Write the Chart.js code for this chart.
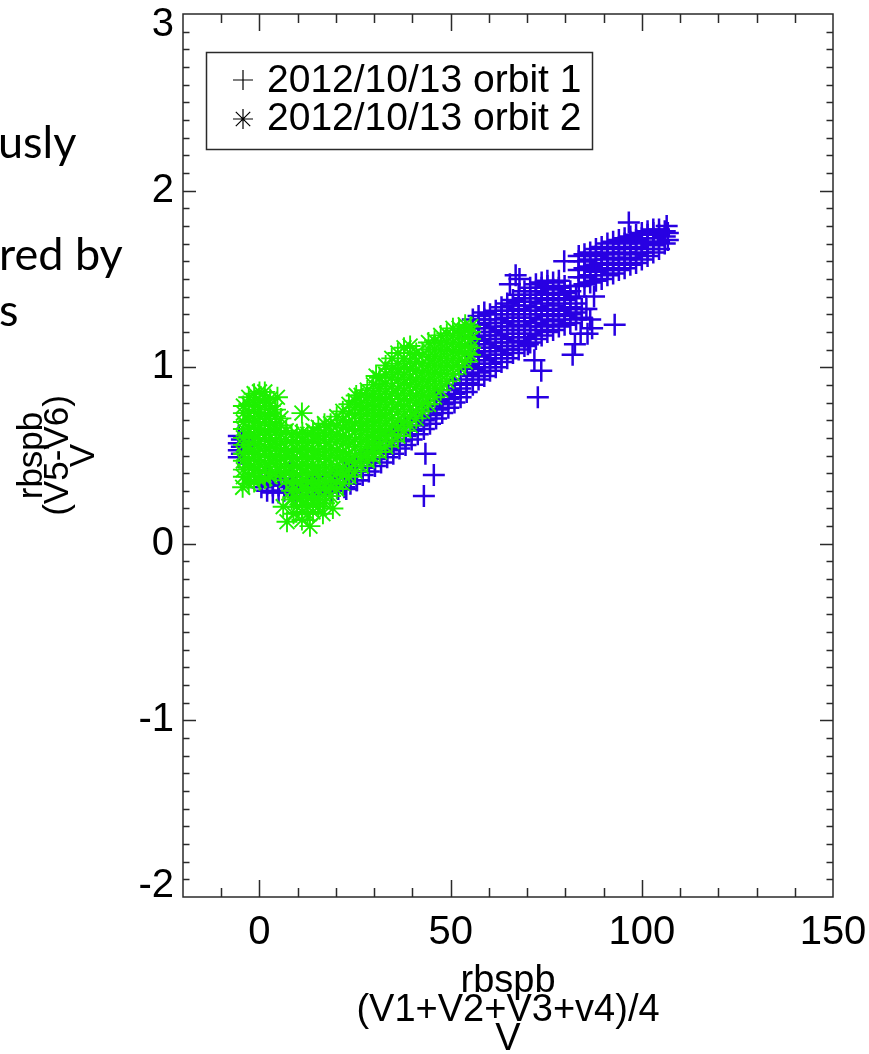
<!DOCTYPE html>
<html>
<head>
<meta charset="utf-8">
<script src="https://cdn.jsdelivr.net/npm/chart.js@4.4.1/dist/chart.umd.min.js"></script>
<style>
html,body{margin:0;padding:0;background:#fff;}
#wrap{position:relative;width:869px;height:1054px;overflow:hidden;background:#fff;}
#c{position:absolute;left:0;top:0;}
.slide{position:absolute;font-family:Lato,'Noto Sans',sans-serif;font-size:45px;line-height:45px;color:#000;white-space:nowrap;}
</style>
</head>
<body>
<div id="wrap">
<canvas id="c" width="869" height="1054"></canvas>
<div class="slide" style="left:-2px;top:119px">usly</div>
<div class="slide" style="left:-1px;top:231px">red by</div>
<div class="slide" style="left:-1px;top:287px">s</div>
</div>
<script>
// ---- tick labels / axis ranges ----
const xTickValues = [0, 50, 100, 150];
const yTickValues = [-2, -1, 0, 1, 2, 3];
const xRange = [-20, 150];
const yRange = [-2, 3];
const xMinorStep = 10;
const yMinorStep = 0.1;
const xTitle = ['rbspb', '(V1+V2+V3+v4)/4', 'V'];
const yTitle = ['rbspb', '(V5-V6)', 'V'];
const seriesNames = ['2012/10/13 orbit 1', '2012/10/13 orbit 2'];

// ---- orbit 1 (blue +): columns [x, [y...]] ----
const orbit1Columns = [
  [-5.4,[0.49,0.53,0.57,0.61]], [-4.6,[0.51,0.55,0.59]],
  [0.5,[0.32,0.36]], [2.0,[0.30,0.34,0.38]], [3.5,[0.29,0.33]], [5.0,[0.29,0.33,0.37]],
  [6.5,[0.30,0.34]], [8.0,[0.32,0.36,0.40]], [9.5,[0.30,0.34]],
  [11.0,[0.27,0.31,0.35]], [12.6,[0.27,0.31,0.36]], [14.2,[0.28,0.32,0.37]],
  [15.8,[0.28,0.33,0.38]], [17.4,[0.29,0.33,0.38]], [19.0,[0.30,0.34,0.39]],
  [20.6,[0.31,0.35,0.40]], [22.2,[0.32,0.37,0.42]], [23.8,[0.34,0.39,0.44]],
  [25.4,[0.36,0.41,0.46]], [27.0,[0.39,0.43,0.48]], [28.6,[0.41,0.46,0.51]],
  [30.2,[0.44,0.48,0.53]], [31.8,[0.46,0.51,0.56]], [33.4,[0.49,0.53,0.58]],
  [35.0,[0.51,0.56,0.61]], [36.6,[0.54,0.58,0.63]], [38.2,[0.56,0.61,0.66]],
  [39.8,[0.59,0.64,0.69]], [41.4,[0.62,0.67,0.72]], [43.0,[0.65,0.70,0.75]],
  [44.6,[0.68,0.73,0.78]], [46.2,[0.71,0.76,0.81]], [47.8,[0.74,0.79,0.84]],
  [49.4,[0.77,0.82,0.87]], [51.0,[0.80,0.85,0.90]], [52.6,[0.83,0.88,0.93]],
  [54.2,[0.86,0.91,0.96,1.01]],
  [55.8,[0.90,0.95,0.99,1.04,1.08,1.13,1.17,1.22,1.27]],
  [57.3,[0.93,0.97,1.02,1.06,1.11,1.15,1.20,1.24,1.29]],
  [58.8,[0.95,1.00,1.04,1.09,1.13,1.18,1.22,1.27,1.31]],
  [60.3,[0.98,1.02,1.07,1.11,1.16,1.20,1.25,1.30]],
  [61.8,[1.00,1.05,1.09,1.14,1.18,1.23,1.27,1.32]],
  [63.3,[1.03,1.07,1.12,1.16,1.21,1.25,1.30,1.34]],
  [64.8,[1.05,1.10,1.14,1.19,1.23,1.28,1.32,1.36]],
  [66.3,[1.08,1.12,1.17,1.21,1.26,1.30,1.35,1.38]],
  [67.8,[1.10,1.15,1.19,1.24,1.28,1.33,1.37,1.41]],
  [69.3,[1.12,1.17,1.21,1.26,1.30,1.35,1.39,1.43]],
  [70.8,[1.14,1.19,1.23,1.28,1.32,1.37,1.41,1.45]],
  [72.3,[1.16,1.21,1.25,1.30,1.34,1.39,1.43,1.47]],
  [73.8,[1.18,1.23,1.27,1.32,1.36,1.41,1.45,1.48]],
  [75.3,[1.20,1.24,1.29,1.33,1.38,1.42,1.46,1.49]],
  [76.8,[1.21,1.26,1.30,1.35,1.39,1.44,1.48]],
  [78.3,[1.23,1.27,1.32,1.36,1.41,1.45,1.49]],
  [79.8,[1.24,1.29,1.33,1.38,1.42,1.46]],
  [81.3,[1.25,1.30,1.34,1.39,1.43]],
  [82.8,[1.27,1.31,1.36,1.40]], [84.3,[1.28,1.33]],
  [83.5,[1.46,1.51,1.55,1.60,1.63]], [85.0,[1.47,1.51,1.56,1.60,1.64]],
  [86.5,[1.48,1.52,1.57,1.61,1.65]], [88.0,[1.49,1.54,1.58,1.63,1.67]],
  [89.5,[1.50,1.55,1.59,1.64,1.68]], [91.0,[1.52,1.56,1.61,1.65,1.70]],
  [92.5,[1.53,1.58,1.62,1.67,1.71]], [94.0,[1.55,1.59,1.64,1.68,1.72]],
  [95.5,[1.56,1.61,1.65,1.70,1.73]], [97.0,[1.58,1.62,1.67,1.71,1.74]],
  [98.5,[1.59,1.64,1.68,1.72,1.75]], [100.0,[1.61,1.65,1.70,1.73,1.76]],
  [101.5,[1.63,1.67,1.71,1.75,1.77]], [103.0,[1.65,1.69,1.73,1.76,1.78]],
  [104.5,[1.67,1.71,1.75,1.78]], [106.0,[1.70,1.74,1.77]], [106.8,[1.72,1.76]]
];
const orbit1Outliers = [
  [96.6,1.82],[79.7,1.60],[68.0,1.50],[87.5,1.40],[92.9,1.24],[72.8,0.83],
  [73.7,0.98],[71.9,1.04],[70.2,1.13],[81.9,1.07],[84.0,1.19],[82.5,1.13],
  [85.5,1.33],[86.5,1.27],[87.0,1.22],[85.8,1.19],[65.5,1.47],[67.0,1.52],
  [43.0,0.27],[45.6,0.39],[43.4,0.51],[22.7,0.31],[25.5,0.36],[106.5,1.80]
];

// ---- orbit 2 (green *): columns [x, [y...]] ----
const orbit2Columns = [
  [-4.2,[0.38,0.42,0.47,0.51,0.56,0.60,0.65,0.69,0.74,0.78]],
  [-2.8,[0.34,0.38,0.43,0.47,0.52,0.56,0.61,0.65,0.70,0.74,0.79,0.83]],
  [-1.4,[0.35,0.40,0.44,0.49,0.53,0.58,0.62,0.67,0.71,0.76,0.80,0.85]],
  [0.0,[0.36,0.40,0.45,0.49,0.54,0.58,0.63,0.67,0.72,0.76,0.81,0.86]],
  [1.4,[0.37,0.42,0.46,0.51,0.55,0.60,0.64,0.69,0.73,0.78,0.82,0.86]],
  [2.8,[0.38,0.42,0.47,0.51,0.56,0.60,0.65,0.69,0.74,0.78,0.82]],
  [4.2,[0.40,0.45,0.49,0.54,0.58,0.63,0.67,0.72,0.76]],
  [5.6,[0.40,0.44,0.49,0.53,0.58,0.62,0.67,0.71]],
  [7.0,[0.36,0.41,0.45,0.50,0.54,0.59,0.64]],
  [8.4,[0.25,0.30,0.34,0.39,0.43,0.48,0.52,0.57,0.62]],
  [9.8,[0.21,0.26,0.30,0.35,0.39,0.44,0.48,0.53,0.57,0.62]],
  [11.2,[0.18,0.22,0.27,0.31,0.36,0.40,0.45,0.49,0.54,0.58,0.63]],
  [12.6,[0.17,0.21,0.26,0.30,0.35,0.39,0.44,0.48,0.53,0.57,0.62]],
  [14.0,[0.18,0.23,0.27,0.32,0.36,0.41,0.45,0.50,0.54,0.59,0.64]],
  [15.4,[0.21,0.25,0.30,0.34,0.39,0.43,0.48,0.52,0.57,0.61,0.66]],
  [17.0,[0.23,0.27,0.32,0.36,0.41,0.45,0.50,0.54,0.59,0.63,0.68]],
  [18.6,[0.27,0.32,0.36,0.41,0.45,0.50,0.54,0.59,0.63,0.68]],
  [20.2,[0.31,0.35,0.40,0.44,0.49,0.53,0.58,0.62,0.67,0.72]],
  [21.8,[0.34,0.39,0.43,0.48,0.52,0.57,0.61,0.66,0.70,0.75]],
  [23.4,[0.38,0.42,0.47,0.51,0.56,0.60,0.65,0.69,0.74,0.79]],
  [25.0,[0.41,0.46,0.50,0.55,0.59,0.64,0.68,0.73,0.77,0.81]],
  [26.6,[0.44,0.49,0.53,0.58,0.62,0.67,0.71,0.76,0.80,0.84]],
  [28.2,[0.47,0.51,0.56,0.60,0.65,0.69,0.74,0.78,0.83,0.87]],
  [29.8,[0.49,0.54,0.58,0.63,0.67,0.72,0.76,0.81,0.85,0.90]],
  [31.4,[0.52,0.56,0.61,0.65,0.70,0.74,0.79,0.83,0.88,0.94]],
  [33.0,[0.55,0.59,0.64,0.68,0.73,0.77,0.82,0.86,0.91,0.96,1.01]],
  [34.6,[0.58,0.62,0.67,0.71,0.76,0.80,0.85,0.89,0.94,0.99,1.05]],
  [36.2,[0.61,0.66,0.70,0.75,0.79,0.84,0.88,0.93,0.97,1.02,1.08]],
  [37.8,[0.64,0.69,0.73,0.78,0.82,0.87,0.91,0.96,1.00,1.05,1.11]],
  [39.4,[0.67,0.72,0.76,0.81,0.85,0.90,0.94,0.99,1.03,1.08,1.12]],
  [41.0,[0.71,0.75,0.80,0.84,0.89,0.93,0.98,1.03,1.08]],
  [42.6,[0.75,0.79,0.84,0.88,0.93,0.97,1.02,1.07]],
  [44.2,[0.79,0.83,0.88,0.92,0.97,1.01,1.06,1.10,1.14]],
  [45.8,[0.83,0.88,0.92,0.97,1.01,1.06,1.10,1.15]],
  [47.4,[0.87,0.92,0.96,1.01,1.05,1.10,1.14,1.18]],
  [49.0,[0.92,0.96,1.01,1.05,1.10,1.14,1.19]],
  [50.6,[0.96,1.00,1.05,1.09,1.14,1.18,1.22]],
  [52.2,[1.00,1.04,1.09,1.13,1.18,1.22]],
  [53.8,[1.03,1.08,1.12,1.17,1.21,1.24]],
  [55.2,[1.07,1.11,1.16,1.20,1.23]]
];
const orbit2Outliers = [
  [4.7,0.83],[-4.4,0.32],[11.1,0.74],[7.2,0.125],[8.9,0.17],[11.1,0.135],
  [13.2,0.10],[16.6,0.17],[19.2,0.20],[6.2,0.21],[25.3,0.84],[30.5,0.95]
];

const blue = '#2800e2';
const green = '#1ff000';
const axisColor = '#2a2a2a';
const FONT = "'Liberation Sans', Arial, Helvetica, sans-serif";

function toPoints(cols, extra) {
  const pts = [];
  cols.forEach(([x, ys]) => ys.forEach(y => pts.push({x: x, y: y})));
  extra.forEach(([x, y]) => pts.push({x: x, y: y}));
  return pts;
}

const boxTicks = {
  id: 'boxTicks',
  afterDatasetsDraw(chart) {
    const {ctx, chartArea: a, scales: {x, y}} = chart;
    ctx.save();
    ctx.strokeStyle = axisColor;
    ctx.lineWidth = 1.5;
    ctx.beginPath();
    const xl = 17, xs = 9, yl = 13, ys = 6.5;
    const nx = Math.round((xRange[1] - xRange[0]) / xMinorStep);
    for (let i = 1; i < nx; i++) {
      const v = xRange[0] + i * xMinorStep;
      const p = Math.round(x.getPixelForValue(v)) + 0.5;
      const L = xTickValues.includes(v) ? xl : xs;
      ctx.moveTo(p, a.bottom); ctx.lineTo(p, a.bottom - L);
      ctx.moveTo(p, a.top); ctx.lineTo(p, a.top + L);
    }
    const ny = Math.round((yRange[1] - yRange[0]) / yMinorStep);
    for (let i = 1; i < ny; i++) {
      const v = +(yRange[0] + i * yMinorStep).toFixed(2);
      const p = Math.round(y.getPixelForValue(v)) + 0.5;
      const L = yTickValues.includes(v) ? yl : ys;
      ctx.moveTo(a.left, p); ctx.lineTo(a.left + L, p);
      ctx.moveTo(a.right, p); ctx.lineTo(a.right - L, p);
    }
    ctx.stroke();
    ctx.strokeRect(a.left, a.top, a.right - a.left, a.bottom - a.top);
    ctx.restore();
  },
  afterDraw(chart) {
    const ctx = chart.ctx;
    ctx.save();
    ctx.strokeStyle = axisColor;
    ctx.lineWidth = 1.5;
    ctx.strokeRect(206.5, 52.5, 386, 97);
    ctx.strokeStyle = '#000';
    ctx.lineWidth = 1.2;
    const r = 10;
    ctx.beginPath();
    ctx.moveTo(243 - r, 80); ctx.lineTo(243 + r, 80);
    ctx.moveTo(243, 80 - r); ctx.lineTo(243, 80 + r);
    const cx = 243, cy = 119, d = r * 0.72;
    ctx.moveTo(cx, cy - r); ctx.lineTo(cx, cy + r);
    ctx.moveTo(cx - r, cy); ctx.lineTo(cx + r, cy);
    ctx.moveTo(cx - d, cy - d); ctx.lineTo(cx + d, cy + d);
    ctx.moveTo(cx - d, cy + d); ctx.lineTo(cx + d, cy - d);
    ctx.stroke();
    ctx.fillStyle = '#000';
    ctx.font = '39px ' + FONT;
    ctx.textBaseline = 'alphabetic';
    ctx.textAlign = 'left';
    ctx.fillText(seriesNames[0], 267, 92);
    ctx.fillText(seriesNames[1], 267, 130);
    ctx.restore();
  }
};

new Chart(document.getElementById('c'), {
  type: 'scatter',
  data: {
    datasets: [
      {
        label: seriesNames[0],
        data: toPoints(orbit1Columns, orbit1Outliers),
        pointStyle: 'cross',
        pointRadius: 11,
        pointHoverRadius: 11,
        borderColor: blue,
        backgroundColor: blue,
        pointBorderWidth: 2.5,
        order: 1
      },
      {
        label: seriesNames[1],
        data: toPoints(orbit2Columns, orbit2Outliers),
        pointStyle: 'star',
        pointRadius: 10.5,
        pointHoverRadius: 10.5,
        borderColor: green,
        backgroundColor: green,
        pointBorderWidth: 1.9,
        order: 0
      }
    ]
  },
  options: {
    responsive: false,
    devicePixelRatio: 1,
    animation: false,
    events: [],
    layout: {padding: {left: 0, top: 14, right: 36, bottom: 0}},
    plugins: {legend: {display: false}, tooltip: {enabled: false}},
    scales: {
      x: {
        type: 'linear',
        min: xRange[0], max: xRange[1],
        grid: {display: false, drawTicks: false},
        border: {display: false},
        afterBuildTicks(s) { s.ticks = xTickValues.map(v => ({value: v})); },
        afterFit(s) { s.height = 157; s.paddingLeft = 0; s.paddingRight = 0; },
        ticks: {
          color: '#000', padding: 12, maxRotation: 0, autoSkip: false,
          font: {family: FONT, size: 40},
          callback: (v) => String(v)
        },
        title: {
          display: true, text: xTitle, color: '#000',
          font: {family: FONT, size: 38, lineHeight: '29px'},
          padding: {top: 0, bottom: 0}
        }
      },
      y: {
        type: 'linear',
        min: yRange[0], max: yRange[1],
        grid: {display: false, drawTicks: false},
        border: {display: false},
        afterBuildTicks(s) { s.ticks = yTickValues.map(v => ({value: v})); },
        afterFit(s) { s.width = 183; s.paddingTop = 0; s.paddingBottom = 0; },
        ticks: {
          color: '#000', padding: 9, autoSkip: false,
          font: {family: FONT, size: 40, lineHeight: '22px'},
          callback: (v) => {
            const t = String(v);
            if (v === yTickValues[yTickValues.length - 1]) return ['', t];
            if (v === yTickValues[0]) return [t, ''];
            return t;
          }
        },
        title: {
          display: true, text: yTitle, color: '#000',
          font: {family: FONT, size: 35, lineHeight: '26px'},
          padding: {top: 19, bottom: 0}
        }
      }
    }
  },
  plugins: [boxTicks]
});
</script>
</body>
</html>
